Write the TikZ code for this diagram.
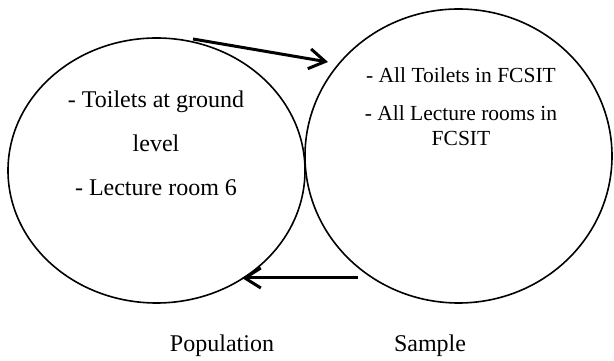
\documentclass[tikz,border=0pt]{standalone}
\usepackage{fontspec}
\setmainfont{Liberation Serif}
\usepackage{xcolor}
\definecolor{diaLine}{HTML}{000000}
\usepackage{tikz}
\usetikzlibrary{shapes.geometric,arrows.meta,positioning}
\tikzset{
    setcircle/.style={
        draw=diaLine,
        ellipse,
        line width=1.6pt,
        inner sep=0pt
    },
    settext/.style={
        align=center,
        inner sep=0pt,
        font=\fontsize{24}{44}\selectfont
    },
    smalltext/.style={
        align=center,
        inner sep=0pt,
        font=\fontsize{21.5}{25}\selectfont
    },
    arrow/.style={
        -{Straight Barb[length=16pt,width=20pt,line width=3pt]},
        line width=3pt,
        color=diaLine
    },
    setlabel/.style={
        inner sep=0pt,
        font=\fontsize{24}{28}\selectfont
    }
}

\begin{document}
\begin{tikzpicture}[x=1pt,y=1pt]
    \useasboundingbox (0,0) rectangle (614,361);

    % Population circle
    \node[setcircle, minimum width=297pt, minimum height=265pt] (pop) at (156.5,190.5) {};
    \node[settext] (poptext) at (156,218) {- Toilets at ground\\level\\- Lecture room 6};

    % Sample circle
    \node[setcircle, minimum width=307pt, minimum height=294pt] (samp) at (458.5,205) {};
    \node[smalltext] (samptext) at (461,254) {- All Toilets in FCSIT\\[13pt]- All Lecture rooms in\\FCSIT};

    % Captions
    \node[setlabel] (poplabel) at (222,15) {Population};
    \node[setlabel] (samplabel) at (430,15) {Sample};

    % Arrows
    \coordinate (topstart) at (193,322);
    \coordinate (topend) at (328,299);
    \coordinate (botstart) at (358,83);
    \coordinate (botend) at (242,83);
    \draw[arrow] (topstart) -- (topend);
    \draw[arrow] (botstart) -- (botend);
\end{tikzpicture}
\end{document}
